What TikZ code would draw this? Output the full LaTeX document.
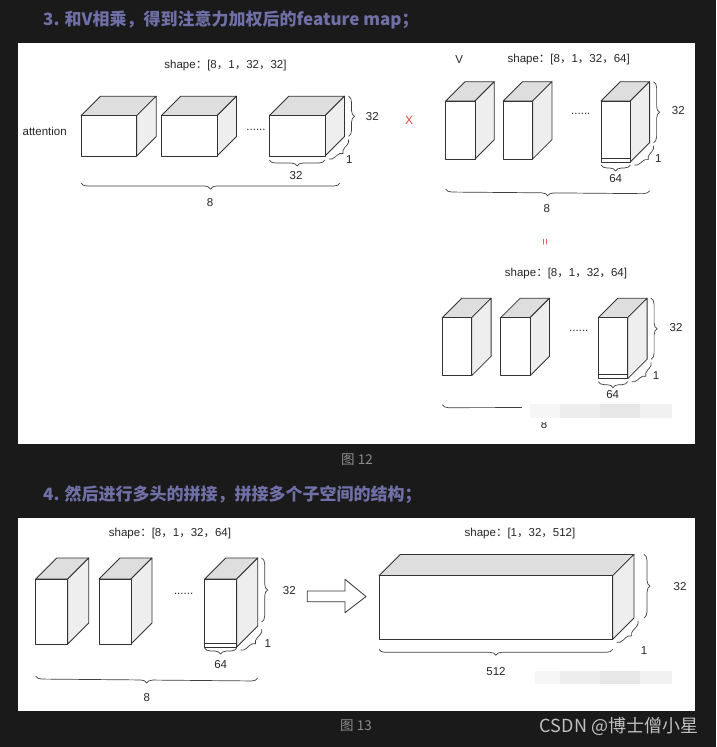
\documentclass[tikz,border=0pt]{standalone}
\usepackage{fontspec}
\setmainfont{Liberation Sans}
\newfontfamily\cjk{Noto Sans CJK SC}
\usetikzlibrary{calc}
\usetikzlibrary{decorations.pathreplacing}
\definecolor{pagebg}{RGB}{26,26,26}
\definecolor{headcol}{RGB}{112,112,168}
\definecolor{topgray}{RGB}{222,222,222}
\definecolor{sidegray}{RGB}{238,238,238}
\definecolor{mulred}{RGB}{232,70,60}
\definecolor{capgray}{RGB}{140,140,140}
\definecolor{markgray}{RGB}{192,192,192}
\tikzset{
  lbl/.style={font=\fontsize{11.5}{13}\selectfont,text=black!85,inner sep=0pt},
  head/.style={font=\cjk\bfseries\fontsize{17}{20}\selectfont,text=headcol,anchor=west,inner sep=0pt},
  cubeedge/.style={draw=black!80,line width=0.8pt,line join=round},
  brc/.style={decorate,decoration={brace,amplitude=6pt},draw=black!75,line width=0.7pt},
  panel/.style={fill=white}
}
\newcommand{\zc}{{\cjk ，}}
\newcommand{\shp}[1]{shape{\cjk ：}[#1]}
% name, front top-left x, y, width, height, depth
\newcommand{\cuboid}[6]{%
  \filldraw[cubeedge,fill=topgray] (#2,#3) -- ++(#6,-#6) -- ++(#4,0) -- ++(-#6,#6) -- cycle;
  \filldraw[cubeedge,fill=sidegray] (#2+#4,#3) -- ++(#6,-#6) -- ++(0,#5) -- ++(-#6,#6) -- cycle;
  \filldraw[cubeedge,fill=white] (#2,#3) rectangle ++(#4,#5);
  \coordinate (#1-fbl) at (#2,#3+#5);
  \coordinate (#1-fbr) at (#2+#4,#3+#5);
  \coordinate (#1-btr) at (#2+#4+#6,#3-#6);
  \coordinate (#1-bbr) at (#2+#4+#6,#3+#5-#6);
}

\begin{document}
\begin{tikzpicture}[x=1pt,y=-1pt]
  \useasboundingbox (0,0) rectangle (716,747);
  \fill[pagebg] (0,0) rectangle (716,747);

  \node[head] (h1) at (43,20) {3. 和V相乘，得到注意力加权后的feature map；};
  \fill[panel] (18,42.7) rectangle (695,444);

  % attention
  \node[lbl] (att) at (44.7,131.7) {attention};
  \node[lbl] (att-shape) at (225.5,66) {\shp{8\zc 1\zc 32\zc 32}};
  \cuboid{att1}{81}{115.7}{55.7}{40.3}{19.5}
  \cuboid{att2}{161.3}{115.7}{55.7}{40.3}{19.5}
  \cuboid{att3}{269.3}{115.7}{55.7}{40.3}{19.5}
  \node[lbl] (att-dots) at (256,130) {......};
  \draw[brc] ($(att3-btr)+(4,0)$) -- ($(att3-bbr)+(4,0)$);
  \node[lbl] (att-h) at (372.3,116.7) {32};
  \draw[brc] ($(att3-bbr)+(4,3)$) -- ($(att3-fbr)+(4,3)$);
  \node[lbl] (att-d) at (349.3,159.3) {1};
  \draw[brc] ($(att3-fbr)+(0,4)$) -- ($(att3-fbl)+(0,4)$);
  \node[lbl] (att-w) at (296,176) {32};
  \draw[brc] ($(att3-fbr)+(15,27)$) -- ($(att1-fbl)+(0,27)$);
  \node[lbl] (att-n) at (210,203) {8};

  \node[lbl,text=mulred,font=\fontsize{12}{14}\selectfont] (times) at (409,120.7) {X};

  % V
  \node[lbl] (v) at (459.3,60) {V};
  \node[lbl] (v-shape) at (568.7,60) {\shp{8\zc 1\zc 32\zc 64}};
  \cuboid{v1}{445.7}{101}{29.3}{58}{19.3}
  \cuboid{v2}{503.3}{101}{29.3}{58}{19.3}
  \cuboid{v3}{601}{101}{29.3}{61}{19.3}
  \draw[cubeedge] ($(v3-fbl)+(0,-4)$) -- ($(v3-fbr)+(0,-4)$);
  \node[lbl] (v-dots) at (580.8,114) {......};
  \draw[brc] ($(v3-btr)+(4,0)$) -- ($(v3-bbr)+(4,0)$);
  \node[lbl] (v-h) at (678.3,111) {32};
  \draw[brc] ($(v3-bbr)+(4,3)$) -- ($(v3-fbr)+(4,3)$);
  \node[lbl] (v-d) at (658.3,159) {1};
  \draw[brc] ($(v3-fbr)+(0,3)$) -- ($(v3-fbl)+(0,3)$);
  \node[lbl] (v-w) at (615.7,178.3) {64};
  \draw[brc] ($(v3-bbr)+(0,48)$) -- ($(v1-fbl)+(0,30)$);
  \node[lbl] (v-n) at (546.7,208.3) {8};

  \node[lbl,text=mulred,rotate=90] (eq) at (546,242.3) {=};

  % result
  \node[lbl] (r-shape) at (566,274) {\shp{8\zc 1\zc 32\zc 64}};
  \cuboid{r1}{442.3}{317.7}{29.4}{58}{19.4}
  \cuboid{r2}{500.7}{317.7}{29.4}{58}{19.4}
  \cuboid{r3}{598.3}{317.7}{29.4}{61}{19.4}
  \draw[cubeedge] ($(r3-fbl)+(0,-4)$) -- ($(r3-fbr)+(0,-4)$);
  \node[lbl] (r-dots) at (578.8,330.7) {......};
  \draw[brc] ($(r3-btr)+(4,0)$) -- ($(r3-bbr)+(4,0)$);
  \node[lbl] (r-h) at (676,327.7) {32};
  \draw[brc] ($(r3-bbr)+(4,3)$) -- ($(r3-fbr)+(4,3)$);
  \node[lbl] (r-d) at (656,376) {1};
  \draw[brc] ($(r3-fbr)+(0,3)$) -- ($(r3-fbl)+(0,3)$);
  \node[lbl] (r-w) at (612.7,395) {64};
  \draw[brc] ($(r3-bbr)+(0,45)$) -- ($(r1-fbl)+(0,29)$);
  \node[lbl] (r-n) at (544,425) {8};
  \fill[white] (522,400) rectangle (675,421.5);
  \fill[gray!7] (530,404) rectangle (560,418);
  \fill[gray!14] (560,404) rectangle (600,418);
  \fill[gray!19] (600,404) rectangle (640,418);
  \fill[gray!11] (640,404) rectangle (672,418);

  \node[font=\cjk\fontsize{13.5}{16}\selectfont,text=capgray] (cap12) at (357,460) {图 12};

  \node[head] (h2) at (43,495) {4. 然后进行多头的拼接，拼接多个子空间的结构；};
  \fill[panel] (18,517.7) rectangle (695,710.7);

  % heads
  \node[lbl] (c-shape) at (170,533.3) {\shp{8\zc 1\zc 32\zc 64}};
  \cuboid{c1}{35.7}{579}{32}{65}{21}
  \cuboid{c2}{99}{579}{32}{65}{21}
  \cuboid{c3}{204.7}{579}{32}{68}{21}
  \draw[cubeedge] ($(c3-fbl)+(0,-4)$) -- ($(c3-fbr)+(0,-4)$);
  \node[lbl] (c-dots) at (183.6,594) {......};
  \draw[brc] ($(c3-btr)+(4,0)$) -- ($(c3-bbr)+(4,-4)$);
  \node[lbl] (c-h) at (289.3,591) {32};
  \draw[brc] ($(c3-bbr)+(4,3)$) -- ($(c3-fbr)+(4,3)$);
  \node[lbl] (c-d) at (267.7,644) {1};
  \draw[brc] ($(c3-fbr)+(0,1)$) -- ($(c3-fbl)+(0,1)$);
  \node[lbl] (c-w) at (220.7,665) {64};
  \draw[brc] ($(c3-bbr)+(0,52)$) -- ($(c1-fbl)+(0,32)$);
  \node[lbl] (c-n) at (146.7,697.3) {8};

  \filldraw[cubeedge,fill=white] (307.3,591) -- (345,591) -- (345,579.3) -- (366,596.5)
    -- (345,612.7) -- (345,601.7) -- (307.3,601.7) -- cycle;

  % concat
  \node[lbl] (cat-shape) at (520,533.3) {\shp{1\zc 32\zc 512}};
  \cuboid{cat}{379}{575.7}{233.7}{63.6}{21.3}
  \draw[brc] ($(cat-btr)+(10,0)$) -- ($(cat-bbr)+(10,0)$);
  \node[lbl] (cat-h) at (680,586.7) {32};
  \draw[brc] ($(cat-bbr)+(4,3)$) -- ($(cat-fbr)+(4,3)$);
  \node[lbl] (cat-d) at (644,650.7) {1};
  \draw[brc] ($(cat-fbr)+(0,10)$) -- ($(cat-fbl)+(0,10)$);
  \node[lbl] (cat-w) at (496,671.7) {512};
  \fill[white] (516,669) rectangle (678,686);
  \fill[gray!7] (535,671) rectangle (560,684);
  \fill[gray!14] (560,671) rectangle (600,684);
  \fill[gray!19] (600,671) rectangle (640,684);
  \fill[gray!11] (640,671) rectangle (672,684);

  \node[font=\cjk\fontsize{13.5}{16}\selectfont,text=capgray] (cap13) at (356,726) {图 13};
  \node[font=\cjk\fontsize{18}{20}\selectfont,text=markgray,anchor=east,inner sep=0pt] (mark) at (698.3,726.7) {CSDN @博士僧小星};
\end{tikzpicture}
\end{document}
